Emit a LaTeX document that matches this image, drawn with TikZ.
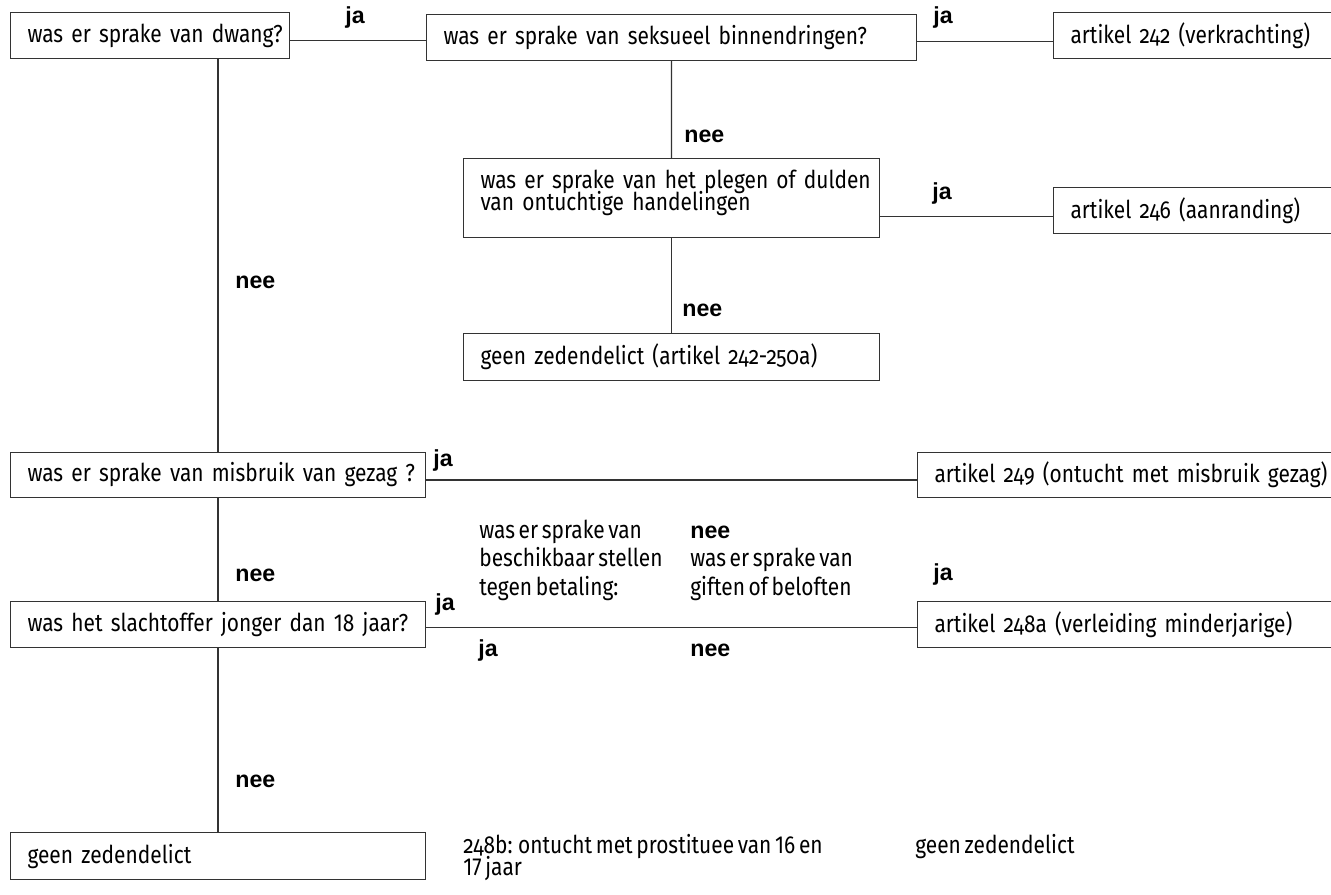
\documentclass[tikz,border=0pt]{standalone}
\usepackage{fontspec}
\setmainfont[FakeStretch=0.85]{Fira Sans}
\newfontfamily\lblfont{Liberation Sans}
\newcommand\os[1]{{\addfontfeatures{Numbers=OldStyle}#1}}
\DeclareRobustCommand\vakfont{\fontsize{14}{12.5}\selectfont\spaceskip=0.15em\relax\lineskiplimit=-20pt\relax}
\DeclareRobustCommand\vrijfont{\fontsize{14}{16.2}\selectfont\spaceskip=0.15em\relax}
\tikzset{
  vak/.style={draw=black!80, line width=0.6pt, rectangle, anchor=north west, align=left,
    inner xsep=0.34cm, inner ysep=0pt, font=\vakfont,
    execute at begin node={\rightskip=0pt plus 1fil minus 3cm\relax}},
  lbl/.style={anchor=base west, inner sep=0pt, font=\lblfont\bfseries\fontsize{13.2}{14}\selectfont},
  vrij/.style={anchor=base west, inner sep=0pt, align=left},
  lijn/.style={draw=black!80, line width=0.6pt}
}
\begin{document}
\begin{tikzpicture}[x=0.02cm, y=-0.02cm]
            \useasboundingbox (0,0) rectangle (1331,895);
            % vragen en uitkomsten
            \node(q1)[vak, text width=4.90cm, minimum height=0.92cm] at (10,12) {was er sprake van dwang?};
            \node(q2)[vak, text width=9.12cm, minimum height=0.92cm] at (426,14) {was er sprake van seksueel binnendringen?};
            \node(a242)[vak, text width=5.32cm, minimum height=0.92cm] at (1053,12) {artikel \os{242} (verkrachting)};
            \node(q4)[vak, text width=7.64cm, minimum height=1.58cm, text depth=0.74cm] at (463,158) {was er sprake van het plegen of dulden\\van ontuchtige handelingen};
            \node(a246)[vak, text width=5.32cm, minimum height=0.92cm] at (1053,187) {artikel \os{246} (aanranding)};
            \node(q5)[vak, text width=7.64cm, minimum height=0.94cm] at (463,333) {geen zedendelict (artikel \os{242-250}a)};
            \node(q6)[vak, text width=7.62cm, minimum height=0.90cm] at (10,452) {was er sprake van misbruik van gezag ?};
            \node(a249)[vak, text width=7.92cm, minimum height=0.90cm] at (917,452) {artikel \os{249} (ontucht met misbruik gezag)};
            \node(q7)[vak, text width=7.62cm, minimum height=0.92cm] at (10,601) {was het slachtoffer jonger dan 18 jaar?};
            \node(a248)[vak, text width=7.92cm, minimum height=0.92cm] at (917,601) {artikel \os{248}a (verleiding minderjarige)};
            \node(q8)[vak, text width=7.62cm, minimum height=0.94cm] at (10,832) {geen zedendelict};
            % losse teksten
            \node(t1)[vrij, font=\vrijfont] at (479,595) {was er sprake van\\beschikbaar stellen\\tegen betaling:};
            \node(t2)[vrij, font=\vrijfont] at (690,595) {{\lblfont\bfseries\fontsize{13.2}{16.2}\selectfont nee}\\was er sprake van\\giften of beloften};
            \node(t3)[vrij, font=\vakfont] at (463,875) {\os{248}b: ontucht met prostituee van 16 en\\17 jaar};
            \node(t4)[vrij, font=\vakfont] at (915,853) {geen zedendelict};
            % lijnen
            \draw[lijn] ([yshift=-0.1cm]q1.east) -- ([yshift=-0.1cm]q1.east -| q2.west);
            \draw[lijn] ([yshift=-0.08cm]q2.east) -- ([yshift=-0.08cm]q2.east -| a242.west);
            \draw[lijn] (q2.south) -- (q4.north);
            \draw[lijn] ([yshift=-0.12cm]a246.west -| q4.east) -- ([yshift=-0.12cm]a246.west);
            \draw[lijn] (q4.south) -- (q5.north);
            \draw[lijn] (q6.north |- q1.south) -- (q6.north);
            \draw[lijn] ([yshift=-0.1cm]q6.east) -- ([yshift=-0.1cm]a249.west);
            \draw[lijn] (q6.south) -- (q7.north);
            \draw[lijn] ([yshift=-0.06cm]q7.east) -- ([yshift=-0.06cm]a248.west);
            \draw[lijn] (q7.south) -- (q8.north);
            % ja / nee
            \node(ja1)[lbl] at (345,24) {ja};
            \node(ja2)[lbl] at (933,24) {ja};
            \node(nee1)[lbl] at (684,143) {nee};
            \node(ja3)[lbl] at (932,199) {ja};
            \node(nee2)[lbl] at (682,316) {nee};
            \node(nee3)[lbl] at (235,288) {nee};
            \node(ja4)[lbl] at (433,466) {ja};
            \node(nee4)[lbl] at (235,581) {nee};
            \node(ja5)[lbl] at (435,610) {ja};
            \node(ja6)[lbl] at (933,580) {ja};
            \node(ja7)[lbl] at (478,656) {ja};
            \node(nee5)[lbl] at (690,656) {nee};
            \node(nee6)[lbl] at (235,787) {nee};
\end{tikzpicture}
\end{document}
